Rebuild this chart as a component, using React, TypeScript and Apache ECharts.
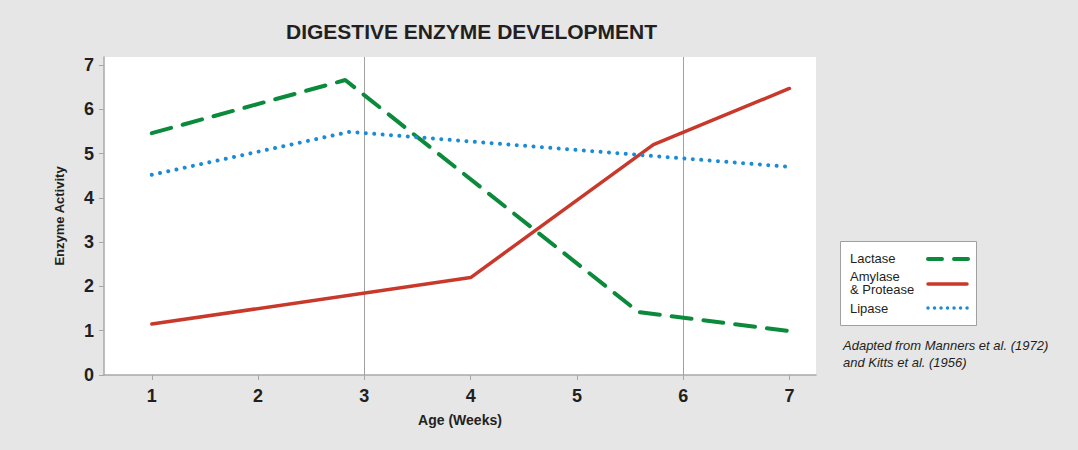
import React, { useEffect, useRef } from "react";
import * as echarts from "echarts";

// ---- Data ----
const weekTicks = [1, 2, 3, 4, 5, 6, 7];
const activityTicks = [0, 1, 2, 3, 4, 5, 6, 7];
const markerWeeks = [3, 6];

const lactaseWeeks = [1, 2.82, 5.58, 7];
const lactaseValues = [5.46, 6.66, 1.42, 0.99];

const amylaseWeeks = [1, 4, 5.72, 7];
const amylaseValues = [1.15, 2.2, 5.2, 6.47];

const lipaseWeeks = [1, 2.86, 7];
const lipaseValues = [4.52, 5.49, 4.7];

const seriesNames = ["Lactase", "Amylase\n& Protease", "Lipase"];
const titleText = "DIGESTIVE ENZYME DEVELOPMENT";
const sourceText = "Adapted from Manners et al. (1972)\nand Kitts et al. (1956)";

const GREEN = "#0b8a3c";
const RED = "#c9392b";
const BLUE = "#1a8bd6";
const FONT = "'Liberation Sans Narrow', 'Liberation Sans', Arial, sans-serif";
const FONT_REG = "'Liberation Sans', Arial, sans-serif";

const pairs = (xs: number[], ys: number[]) => xs.map((x, i) => [x, ys[i]]);

export default function App() {
  const ref = useRef<HTMLDivElement>(null);

  useEffect(() => {
    if (!ref.current) return;
    const chart = echarts.init(ref.current, null, { renderer: "svg" });
    const axisLineColor = "#a8a8a8";
    chart.setOption({
      animation: false,
      backgroundColor: "#e6e6e6",
      grid: {
        left: 104,
        right: 262,
        top: 57,
        bottom: 75,
        show: true,
        backgroundColor: "#ffffff",
        borderWidth: 0,
      },
      xAxis: {
        type: "value",
        min: 0.55,
        max: 7.25,
        name: "Age (Weeks)",
        nameLocation: "middle",
        nameGap: 38,
        nameTextStyle: { fontFamily: FONT, fontWeight: "bold", fontSize: 14, color: "#231f20" },
        axisLine: { show: true, lineStyle: { color: axisLineColor, width: 1.5 } },
        axisTick: { show: true, customValues: weekTicks, length: 5, lineStyle: { color: axisLineColor } },
        axisLabel: {
          customValues: weekTicks,
          margin: 12,
          fontFamily: FONT,
          fontWeight: "bold",
          fontSize: 18,
          color: "#231f20",
        },
        splitLine: { show: false },
      },
      yAxis: {
        type: "value",
        min: 0,
        max: 7.18,
        name: "Enzyme Activity",
        nameLocation: "middle",
        nameRotate: 90,
        nameGap: 38,
        nameTextStyle: { fontFamily: FONT, fontWeight: "bold", fontSize: 13, color: "#231f20" },
        axisLine: { show: true, lineStyle: { color: axisLineColor, width: 1.5 } },
        axisTick: { show: true, customValues: activityTicks, length: 5, lineStyle: { color: axisLineColor } },
        axisLabel: {
          customValues: activityTicks,
          margin: 10,
          fontFamily: FONT,
          fontWeight: "bold",
          fontSize: 18,
          color: "#231f20",
        },
        splitLine: { show: false },
      },
      series: [
        {
          name: seriesNames[0],
          type: "line",
          data: pairs(lactaseWeeks, lactaseValues),
          showSymbol: false,
          lineStyle: { color: GREEN, width: 4, type: [20, 12], cap: "round" },
          z: 3,
          markLine: {
            silent: true,
            symbol: "none",
            label: { show: false },
            lineStyle: { color: "#a0a0a0", width: 1, type: "solid" },
            data: markerWeeks.map((w) => ({ xAxis: w })),
            z: 1,
          },
        },
        {
          name: seriesNames[1],
          type: "line",
          data: pairs(amylaseWeeks, amylaseValues),
          showSymbol: false,
          lineStyle: { color: RED, width: 3.5, cap: "round" },
          z: 3,
        },
        {
          name: seriesNames[2],
          type: "line",
          data: pairs(lipaseWeeks, lipaseValues),
          showSymbol: false,
          lineStyle: { color: BLUE, width: 4, type: [0.01, 8.4], cap: "round" },
          z: 3,
        },
      ],
      graphic: [
        {
          type: "text",
          left: 286,
          top: 21,
          style: {
            text: titleText,
            font: `bold 21px ${FONT_REG}`,
            fill: "#231f20",
          },
        },
        {
          type: "rect",
          shape: { x: 840.5, y: 241.5, width: 136, height: 84 },
          style: { fill: "#ffffff", stroke: "#a0a0a0", lineWidth: 1 },
        },
        {
          type: "text",
          x: 850,
          y: 258,
          style: { text: seriesNames[0], font: `13px ${FONT_REG}`, fill: "#231f20", verticalAlign: "middle" },
        },
        {
          type: "text",
          x: 850,
          y: 283,
          style: {
            text: seriesNames[1],
            font: `13px ${FONT_REG}`,
            lineHeight: 13,
            fill: "#231f20",
            verticalAlign: "middle",
          },
        },
        {
          type: "text",
          x: 850,
          y: 308,
          style: { text: seriesNames[2], font: `13px ${FONT_REG}`, fill: "#231f20", verticalAlign: "middle" },
        },
        {
          type: "line",
          shape: { x1: 928, y1: 259, x2: 968, y2: 259 },
          style: { stroke: GREEN, lineWidth: 4, lineDash: [14, 12], lineCap: "round" },
        },
        {
          type: "line",
          shape: { x1: 928, y1: 284, x2: 967, y2: 284 },
          style: { stroke: RED, lineWidth: 3.5, lineCap: "round" },
        },
        {
          type: "line",
          shape: { x1: 928, y1: 308, x2: 968, y2: 308 },
          style: { stroke: BLUE, lineWidth: 3.5, lineDash: [0.01, 6.5], lineCap: "round" },
        },
        {
          type: "text",
          x: 843,
          y: 337,
          style: {
            text: sourceText,
            font: `italic 13px ${FONT_REG}`,
            lineHeight: 17,
            fill: "#231f20",
          },
        },
      ],
    });
    return () => chart.dispose();
  }, []);

  return (
    <div
      ref={ref}
      style={{ position: "fixed", left: 0, top: 0, width: 1078, height: 450 }}
    />
  );
}
